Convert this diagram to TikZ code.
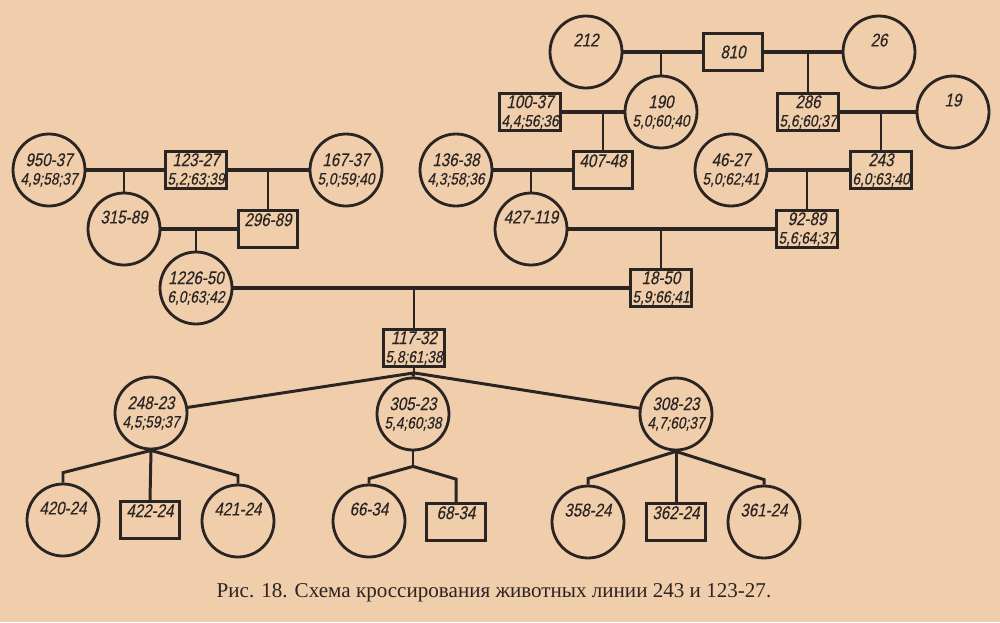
\documentclass[tikz,border=0pt]{standalone}
\usepackage{fontspec}
\setmainfont{Liberation Serif}
\newfontfamily\hand{Liberation Sans}[FakeStretch=0.82,FakeSlant=0.2,FakeBold=0.3]
\usepackage{tikz}
\usetikzlibrary{calc}

\definecolor{paper}{RGB}{240,206,171}
\definecolor{ink}{RGB}{42,36,34}
\newcommand{\stats}[1]{{\fontsize{9.5}{10}\selectfont #1}}

\begin{document}
\begin{tikzpicture}[x=0.02cm,y=-0.02cm,
  fem/.style={circle, draw=ink, line width=1.6pt, minimum size=1.44cm, inner sep=0pt, align=center, text=ink, font=\hand\fontsize{10.5}{10.5}\selectfont},
  male/.style={rectangle, draw=ink, line width=1.6pt, minimum width=1.18cm, minimum height=0.74cm, inner sep=1pt, align=center, text=ink, font=\hand\fontsize{10.5}{10.5}\selectfont},
  mate/.style={draw=ink, line width=2pt},
  kid/.style={draw=ink, line width=1.35pt},
  fan/.style={draw=ink, line width=1.7pt}]
\useasboundingbox (0,0) rectangle (1000,622);
\fill[paper] (0,0) rectangle (1000,622);

% line 243
\node[fem] (n212) at (586,52) {212\\\strut};
\node[male] (n810) at (733,52) {810};
\node[fem] (n26) at (879,52) {26\\\strut};
\node[male] (n100) at (530,112) {100-37\\\stats{4,4;56;36}};
\node[fem] (n190) at (661,112) {190\\\stats{5,0;60;40}};
\node[male] (n286) at (808,112) {286\\\stats{5,6;60;37}};
\node[fem] (n19) at (953,112) {19\\\strut};
\node[fem] (n136) at (456,170) {136-38\\\stats{4,3;58;36}};
\node[male] (n407) at (603,170) {407-48\\[-3pt]\strut};
\node[fem] (n46) at (731,170) {46-27\\\stats{5,0;62;41}};
\node[male] (n243) at (881,170) {243\\\stats{6,0;63;40}};
\node[fem] (n427) at (531,229) {427-119\\\strut};
\node[male] (n92) at (807,229) {92-89\\\stats{5,6;64;37}};
\node[male] (n18) at (661,288) {18-50\\\stats{5,9;66;41}};

% line 123-27
\node[fem] (n950) at (49,170) {950-37\\\stats{4,9;58;37}};
\node[male] (n123) at (196,170) {123-27\\\stats{5,2;63;39}};
\node[fem] (n167) at (346,170) {167-37\\\stats{5,0;59;40}};
\node[fem] (n315) at (124,229) {315-89\\\strut};
\node[male] (n296) at (268,229) {296-89\\[-3pt]\strut};
\node[fem] (n1226) at (196,288) {1226-50\\\stats{6,0;63;42}};

% offspring
\node[male] (n117) at (414,348) {117-32\\\stats{5,8;61;38}};
\node[fem] (n248) at (151,413) {248-23\\\stats{4,5;59;37}};
\node[fem] (n305) at (413,414) {305-23\\\stats{5,4;60;38}};
\node[fem] (n308) at (676,414) {308-23\\\stats{4,7;60;37}};
\node[fem] (n420) at (63,520) {420-24\\\strut};
\node[male] (n422) at (150,520) {422-24\\[-3pt]\strut};
\node[fem] (n421) at (238,521) {421-24\\\strut};
\node[fem] (n66) at (369,521) {66-34\\\strut};
\node[male] (n68) at (456,522) {68-34\\[-3pt]\strut};
\node[fem] (n358) at (588,522) {358-24\\\strut};
\node[male] (n362) at (676,522) {362-24\\[-3pt]\strut};
\node[fem] (n361) at (764,522) {361-24\\\strut};

\foreach \a/\b in {n212/n810, n810/n26, n100/n190, n286/n19, n136/n407, n46/n243,
  n427/n92, n950/n123, n123/n167, n315/n296, n1226/n18}
  \draw[mate] (\a) -- (\b);
\foreach \c/\p in {n190/n212, n286/n810, n407/n100, n243/n19, n427/n136, n92/n46,
  n18/n427, n315/n950, n296/n167, n1226/n315, n117/n1226}
  \draw[kid] (\c.north) -- (\c.north |- \p);

\coordinate (f117) at ([yshift=-1mm]n117.south);
\draw[fan] (n117.south) -- (f117);
\draw[fan] (f117) -- (n248);
\draw[fan] (f117) -- (n305.north);
\draw[fan] (f117) -- (n308);

\draw[fan] (n248.south) -- ([yshift=2mm]n420.north) -- (n420.north);
\draw[fan] (n248.south) -- (n422.north);
\draw[fan] (n248.south) -- ([yshift=1.6mm]n421.north) -- (n421.north);

\coordinate (f305) at ([yshift=-3mm]n305.south);
\draw[fan] (n305.south) -- (f305);
\draw[fan] (f305) -- ([yshift=1mm]n66.north) -- (n66.north);
\draw[fan] (f305) -- ([yshift=4.6mm]n68.north) -- (n68.north);

\draw[fan] (n308.south) -- ([yshift=1.2mm]n358.north) -- (n358.north);
\draw[fan] (n308.south) -- (n362.north);
\draw[fan] (n308.south) -- ([yshift=1mm]n361.north) -- (n361.north);

\node[text=ink, font=\fontsize{12}{13}\selectfont] (cap) at (494,593)
  {Рис. 18. Схема кроссирования животных линии 243 и 123-27.};
\end{tikzpicture}
\end{document}
